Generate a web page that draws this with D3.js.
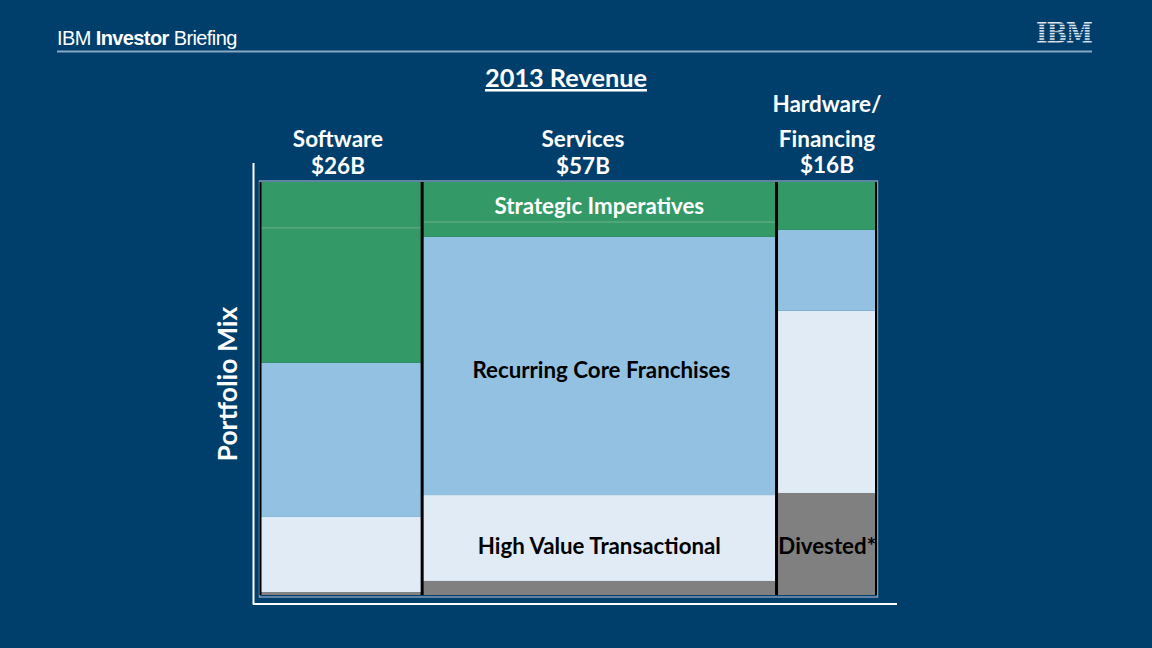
<!DOCTYPE html>
<html><head><meta charset="utf-8">
<script src="https://cdn.jsdelivr.net/npm/d3@7"></script>
<style>html,body{margin:0;padding:0;background:#003e6b;}svg{display:block;}</style>
</head><body>
<svg id="chart" width="1152" height="648"></svg>
<script>
// ---- data ----
const categories = ["Software", "Services", "Hardware/Financing"];
const revenue = [26, 57, 16]; // $B
const headerLines = [["Software", "$26B"], ["Services", "$57B"], ["Hardware/", "Financing", "$16B"]];
const seriesNames = ["Strategic Imperatives A", "Strategic Imperatives B", "Recurring Core Franchises", "High Value Transactional", "Divested"];
// percent of each column
const strategicA = [11.1, 9.7, 11.6];
const strategicB = [32.7, 3.6, 0];
const recurring  = [37.3, 62.5, 19.6];
const transact   = [18.2, 20.8, 44.1];
const divested   = [0.7, 3.4, 24.7];
const colors = ["#339966", "#339966", "#92c1e1", "#e1ebf5", "#808080"];

const svg = d3.select("#chart");
const W = 1152, H = 648;
svg.append("rect").attr("width", W).attr("height", H).attr("fill", "#003e6b");

// header
const hdr = svg.append("text").attr("x", 57).attr("y", 45).attr("fill", "#fff")
  .attr("font-family", "Liberation Sans, Arial").attr("font-size", 20).attr("letter-spacing", -0.6);
hdr.append("tspan").text("IBM ");
hdr.append("tspan").attr("font-weight", "bold").text("Investor");
hdr.append("tspan").text(" Briefing");
svg.append("line").attr("x1", 57).attr("x2", 1092).attr("y1", 51.5).attr("y2", 51.5)
  .attr("stroke", "#8aa7c3").attr("stroke-width", 2);
// IBM logo (striped)
svg.append("text").attr("x", 1064).attr("y", 43).attr("text-anchor", "middle")
  .attr("fill", "#dfe9f2").attr("font-family", "DejaVu Serif").attr("font-weight", "bold")
  .attr("font-size", 27).attr("letter-spacing", -1).attr("textLength", 56).attr("lengthAdjust", "spacingAndGlyphs").text("IBM");
for (let i = 0; i < 8; i++) {
  svg.append("rect").attr("x", 1030).attr("y", 22 + i * 2.7 + 1.6).attr("width", 68).attr("height", 1.1).attr("fill", "#003e6b");
}

// scales
const x0 = 260.5, x1 = 876, yTop = 182, yBot = 595;
const cum = [0]; revenue.forEach(v => cum.push(cum[cum.length - 1] + v));
const x = d3.scaleLinear().domain([0, cum[cum.length - 1]]).range([x0, x1]);
const y = d3.scaleLinear().domain([0, 100]).range([yBot, yTop]);

const table = categories.map((c, i) => ({
  cat: c, start: cum[i], end: cum[i + 1],
  s4: divested[i], s3: transact[i], s2: recurring[i], s1: strategicB[i], s0: strategicA[i]
}));
const keys = ["s4", "s3", "s2", "s1", "s0"];
const colorOf = { s0: colors[0], s1: colors[1], s2: colors[2], s3: colors[3], s4: colors[4] };
const stack = d3.stack().keys(keys)(table);

// outer box
svg.append("rect").attr("x", x0 - 1).attr("y", yTop - 1).attr("width", x1 - x0 + 2.5).attr("height", yBot - yTop + 3)
  .attr("fill", "none").attr("stroke", "#7f9bb5").attr("stroke-width", 1.5);

const g = svg.append("g");
stack.forEach(layer => {
  g.selectAll(null).data(layer).enter().append("rect")
    .attr("x", d => x(d.data.start))
    .attr("width", d => x(d.data.end) - x(d.data.start))
    .attr("y", d => y(d[1]))
    .attr("height", d => Math.max(0, y(d[0]) - y(d[1])))
    .attr("fill", colorOf[layer.key]);
});
stack.find(l => l.key === "s1").forEach(d => {
  if (d[1] - d[0] > 0) {
    g.append("line").attr("x1", x(d.data.start)).attr("x2", x(d.data.end))
      .attr("y1", y(d[1])).attr("y2", y(d[1])).attr("stroke", "#6fb58f").attr("stroke-width", 1);
  }
});
cum.forEach((c, i) => {
  const w = (i === 0 || i === cum.length - 1) ? 2 : 3;
  g.append("line").attr("x1", x(c)).attr("x2", x(c)).attr("y1", yTop).attr("y2", yBot)
    .attr("stroke", "#000").attr("stroke-width", w);
});

// axes lines
svg.append("line").attr("x1", 253.5).attr("x2", 253.5).attr("y1", 163).attr("y2", 604.5).attr("stroke", "#fff").attr("stroke-width", 2);
svg.append("line").attr("x1", 253).attr("x2", 897).attr("y1", 604).attr("y2", 604).attr("stroke", "#fff").attr("stroke-width", 2);

const font = "Lato, Open Sans, sans-serif";
svg.append("text").attr("x", 566).attr("y", 87).attr("text-anchor", "middle").attr("fill", "#fff")
  .attr("font-family", font).attr("font-weight", "bold").attr("font-size", 25.3).attr("text-decoration", "underline")
  .text("2013 Revenue");
const headerY = [[146.5, 174], [146.5, 174], [112, 146.5, 173]];
const headerX = [338, 583, 827];
headerLines.forEach((lines, i) => {
  lines.forEach((t, j) => {
    svg.append("text").attr("x", headerX[i]).attr("y", headerY[i][j]).attr("text-anchor", "middle")
      .attr("fill", "#fff").attr("font-family", font).attr("font-weight", "bold").attr("font-size", 22.5).text(t);
  });
});
svg.append("text").attr("transform", "translate(237,384) rotate(-90)").attr("text-anchor", "middle")
  .attr("fill", "#fff").attr("font-family", font).attr("font-weight", "bold").attr("font-size", 26.5).text("Portfolio Mix");

const sx = (x(cum[1]) + x(cum[2])) / 2;
const lab = (tx, ty, t, fill, anchor) => svg.append("text").attr("x", tx).attr("y", ty).attr("text-anchor", anchor || "middle")
  .attr("fill", fill).attr("font-family", font).attr("font-weight", "bold").attr("font-size", 22.3).text(t);
lab(sx, 214, "Strategic Imperatives", "#fff");
lab(sx + 2, 378, "Recurring Core Franchises", "#000");
lab(sx, 554, "High Value Transactional", "#000");
lab((x(cum[2]) + x(cum[3])) / 2 + 1, 554, "Divested*", "#000");
</script>
</body></html>
